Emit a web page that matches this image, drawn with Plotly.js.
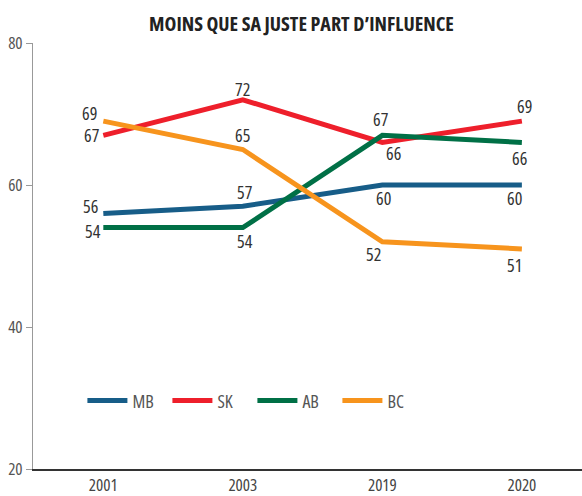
<!DOCTYPE html>
<html><head><meta charset="utf-8">
<script src="https://cdn.plot.ly/plotly-3.0.1.min.js"></script>
<style>
html,body{margin:0;padding:0;background:#fff}
#c{width:582px;height:496px}
svg text{font-stretch:75% !important;}
svg text.annotation-text{font-stretch:85% !important;}
</style>
</head><body><div id="c"></div>
<script>
const years = ["2001", "2003", "2019", "2020"];
const mb = [56, 57, 60, 60];
const sk = [67, 72, 66, 69];
const ab = [54, 54, 67, 66];
const bc = [69, 65, 52, 51];
const names = ["MB", "SK", "AB", "BC"];

const FONT = '"Open Sans", sans-serif';
const colors = ["#175d88", "#ee1f2b", "#007046", "#f7941d"];
const series = [mb, sk, ab, bc];
// label offsets in pixels (dx right, dy down) for each series / point
const offsets = [
  [[-13, -6], [2, -13], [1, 14], [-7, 14]],
  [[-12, 1], [0, -10], [11, 12], [3, -14]],
  [[-10, 4], [2, 14], [-2, -15], [-2, 17]],
  [[-14, -7], [0, -13.5], [-9, 13], [-7, 17]]
];
const traces = series.map((vals, i) => ({
  x: years, y: vals, name: names[i], type: "scatter", mode: "lines",
  line: {color: colors[i], width: 5}, hoverinfo: "skip"
}));
const annotations = [];
series.forEach((vals, i) => vals.forEach((v, j) => {
  annotations.push({
    x: j, y: v, xref: "x", yref: "y", text: String(v), showarrow: false,
    xanchor: "center", yanchor: "middle",
    xshift: offsets[i][j][0], yshift: -offsets[i][j][1] + 1,
    font: {family: FONT, size: 18, color: "#333"}
  });
}));

const layout = {
  width: 582, height: 496,
  margin: {l: 33, r: 0, t: 43, b: 27},
  paper_bgcolor: "#fff", plot_bgcolor: "#fff",
  title: {text: "MOINS QUE SA JUSTE PART D’INFLUENCE", x: 0.518, xanchor: "center", y: 0.952, yanchor: "middle",
    font: {family: FONT, size: 20, color: "#222", weight: 700}},
  font: {family: FONT},
  annotations: annotations,
  xaxis: {type: "category", range: [-0.504, 3.431], showgrid: false, zeroline: false,
    showline: true, linecolor: "#333", linewidth: 1.5, ticks: "",
    tickfont: {family: FONT, size: 17, color: "#444"}},
  yaxis: {range: [20, 80], tickvals: [20, 40, 60, 80], showgrid: false, zeroline: false,
    showline: true, linecolor: "#999", linewidth: 1, ticks: "outside", ticklen: 6, tickcolor: "#999",
    tickfont: {family: FONT, size: 17, color: "#555"}},
  showlegend: true,
  legend: {orientation: "h", x: 0.09, y: 0.16, xanchor: "left", yanchor: "middle",
    font: {family: FONT, size: 18, color: "#555"}, itemwidth: 40, entrywidth: 30, entrywidthmode: "pixels",
    bgcolor: "rgba(0,0,0,0)"}
};
Plotly.newPlot("c", traces, layout, {displayModeBar: false, staticPlot: true});
</script></body></html>
